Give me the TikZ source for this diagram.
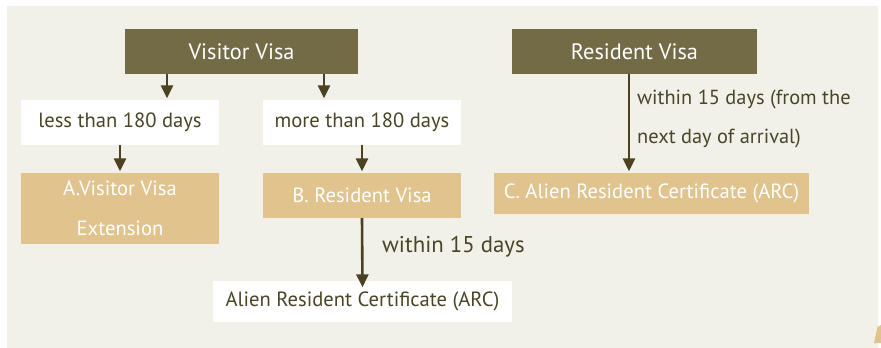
\documentclass[tikz,border=0pt]{standalone}
\usepackage{fontspec}
\setmainfont{PT Sans}
\usetikzlibrary{arrows.meta}
\definecolor{bgc}{HTML}{F1F0E9}
\definecolor{olive}{HTML}{736B46}
\definecolor{tan}{HTML}{E0C38D}
\definecolor{txt}{HTML}{4A4526}
\definecolor{arr}{HTML}{4A4220}
\tikzset{
  x=1pt,y=-1pt,
  darkbox/.style={fill=olive,text=white,font=\fontsize{22.3}{26}\selectfont,inner sep=0pt,anchor=center},
  whitebox/.style={fill=white,text=txt,font=\fontsize{20.6}{24}\selectfont,inner sep=0pt,anchor=center},
  tanbox/.style={fill=tan,text=white,font=\fontsize{20.6}{24}\selectfont,inner sep=0pt,anchor=center},
  lbl/.style={text=txt,font=\fontsize{20.4}{24}\selectfont,inner sep=0pt,anchor=west},
  conn/.style={draw=arr,line width=2.6pt,shorten >=1.5pt,-{Triangle[length=13pt,width=12pt]}},
}
\begin{document}
\begin{tikzpicture}
\useasboundingbox (0,0) rectangle (881,348);
\fill[bgc] (7,6) rectangle (878,348);
\fill[tan] (877.5,327) -- (881,325) -- (881,343) -- (874,343) -- cycle;
\node[darkbox,minimum width=233pt,minimum height=45pt] (vv) at (241.5,51.5) {Visitor Visa};
\node[darkbox,minimum width=245pt,minimum height=45pt] (rv) at (634.5,51.5) {Resident Visa};
\node[whitebox,minimum width=198pt,minimum height=45pt] (less) at (120,122.5) {less than 180 days};
\node[whitebox,minimum width=198pt,minimum height=45pt] (more) at (362,122.5) {more than 180 days};
\node[tanbox,minimum width=198pt,minimum height=71pt,align=center] (A) at (120,208.5) {A.Visitor Visa\\[16pt]Extension};
\node[tanbox,minimum width=198pt,minimum height=45pt] (B) at (362,195.5) {B. Resident Visa};
\node[tanbox,minimum width=315pt,minimum height=41pt] (C) at (651.5,193.5) {C. Alien Resident Certificate (ARC)};
\node[whitebox,minimum width=299pt,minimum height=41pt] (arc) at (362.5,301.5) {Alien Resident Certificate (ARC)};
\coordinate (v1) at (167,74);
\coordinate (v2) at (324,74);
\draw[conn] (v1) -- (v1 |- less.north);
\draw[conn] (v2) -- (v2 |- more.north);
\draw[conn] (less.south) -- (A.north);
\draw[conn] (more.south) -- (B.north);
\draw[conn] (B.south) -- ([yshift=-8pt]arc.north);
\coordinate (r1) at (629,74);
\draw[conn] (r1) -- (r1 |- C.north);
\node[lbl,font=\fontsize{22.8}{26}\selectfont] (l15) at (382,247) {within 15 days};
\node[lbl] (l15a) at (637,99) {within 15 days (from the};
\node[lbl] (l15b) at (637,138) {next day of arrival)};
\end{tikzpicture}
\end{document}
